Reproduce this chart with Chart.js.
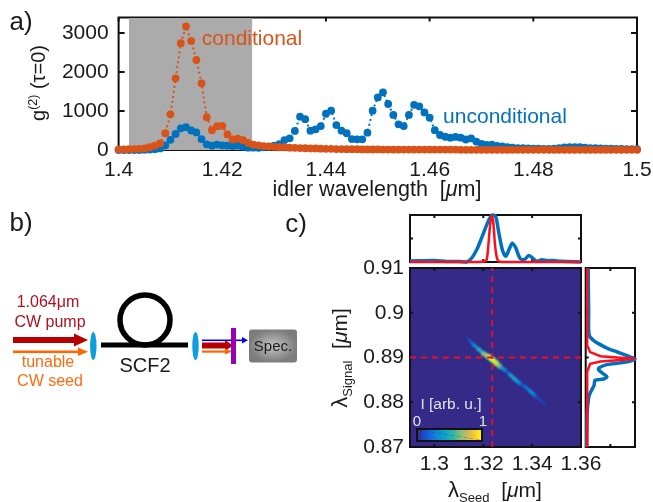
<!DOCTYPE html>
<html>
<head>
<meta charset="utf-8">
<title>g2 spectra</title>
<script src="https://cdn.jsdelivr.net/npm/chart.js@4"></script>
<style>
    html, body { margin: 0; padding: 0; background: #fff; overflow: hidden; }
    #page { position: relative; width: 653px; height: 502px; font-family: "Liberation Sans", Arial, sans-serif; color: #1a1a1a; }
    canvas { position: absolute; left: 0; top: 0; }
    svg { position: absolute; left: 0; top: 0; }
    .t { position: absolute; white-space: nowrap; line-height: 1; transform: translate(-50%, -50%); }
    .rot { transform: translate(-50%, -50%) rotate(-90deg); }
    sup, sub { font-size: 62%; line-height: 0; }
    #colorbar { position: absolute; left: 416px; top: 428px; width: 67px; height: 14px; box-sizing: border-box; border: 2px solid #111;
        background: linear-gradient(to top right, transparent 48%, rgba(40,60,110,.4) 50%, transparent 52%),
            linear-gradient(90deg, #352a87, #0f5cdd 14%, #1481d6 28%, #06a4ca 42%, #2eb7a4 56%, #87bf77 68%, #d1bb59 80%, #fec832 90%, #f9fb0e); }
</style>
</head>
<body>
<div id="page">
    <canvas id="spectrum" width="653" height="502"></canvas>
    <canvas id="topCut" width="653" height="502"></canvas>
    <canvas id="heat" width="653" height="502"></canvas>
    <canvas id="sideCut" width="653" height="502"></canvas>

    <svg width="653" height="502">
        <defs>
            <radialGradient id="specFill"><stop offset="0" stop-color="#c4c4c4"/><stop offset="1" stop-color="#7c7c7c"/></radialGradient>
        </defs>
        <rect x="13" y="337" width="62" height="6" fill="#b80000"/>
        <polygon points="74,333.5 88,340 74,346.5" fill="#b80000"/>
        <rect x="13" y="350.5" width="66" height="2.6" fill="#ff6600"/>
        <polygon points="78,347.5 88,351.8 78,356" fill="#ff6600"/>
        <ellipse cx="93.3" cy="346" rx="3.2" ry="14" fill="#0b9fdc"/>
        <circle cx="145" cy="320" r="25" fill="none" stroke="#000" stroke-width="5.5"/>
        <rect x="101" y="342.5" width="87" height="5" fill="#000"/>
        <ellipse cx="195.5" cy="346" rx="3.2" ry="14" fill="#0b9fdc"/>
        <rect x="202" y="339.5" width="40" height="1.6" fill="#0000ee"/>
        <polygon points="242,337 248,340.3 242,343.5" fill="#0000ee"/>
        <rect x="202" y="342.5" width="24" height="6" fill="#b80000"/>
        <polygon points="225,340 233,345.5 225,351" fill="#b80000"/>
        <rect x="202" y="350.5" width="24" height="2.2" fill="#ff6600"/>
        <polygon points="225,348.5 232,351.6 225,354.6" fill="#ff6600"/>
        <rect x="231" y="328" width="5" height="36" fill="#9a00b8"/>
        <rect x="249" y="329.5" width="48" height="33" rx="3" fill="url(#specFill)"/>
    </svg>

    <div class="t" style="left:21px;top:21px;font-size:26px">a)</div>
    <div class="t" style="left:21px;top:222px;font-size:26px">b)</div>
    <div class="t" style="left:296px;top:223px;font-size:26px">c)</div>

    <div class="t rot" style="left:38px;top:83px;font-size:20px">g<sup>(2)</sup> (τ=0)</div>
    <div class="t" style="left:377px;top:190px;font-size:21.5px">idler wavelength &nbsp;[<i>μ</i>m]</div>
    <div class="t" style="left:252px;top:37px;font-size:21px;color:#d95319">conditional</div>
    <div class="t" style="left:505px;top:115px;font-size:21px;color:#0072bd">unconditional</div>

    <div class="t" style="left:48px;top:302px;font-size:16px;color:#b01020">1.064μm</div>
    <div class="t" style="left:50px;top:322px;font-size:16px;color:#b01020">CW pump</div>
    <div class="t" style="left:48px;top:362px;font-size:16px;color:#ff6a10">tunable</div>
    <div class="t" style="left:50px;top:381px;font-size:16px;color:#ff6a10">CW seed</div>
    <div class="t" style="left:145px;top:365px;font-size:20px">SCF2</div>
    <div class="t" style="left:273px;top:345px;font-size:15px">Spec.</div>

    <div class="t" style="left:495px;top:490px;font-size:21px"><span style="font-size:22px">λ</span><sub>Seed</sub> &nbsp;[<i>μ</i>m]</div>
    <div class="t rot" style="left:340px;top:358px;font-size:21px"><span style="font-size:22px">λ</span><sub>Signal</sub> &nbsp;[<i>μ</i>m]</div>
    <div class="t" style="left:451px;top:404px;font-size:15.5px;color:#e4e4ee">I [arb. u.]</div>
    <div class="t" style="left:417px;top:420px;font-size:15px;color:#e4e4ee">0</div>
    <div class="t" style="left:483px;top:420px;font-size:15px;color:#e4e4ee">1</div>
    <div id="colorbar"></div>
</div>

<script>
const wavelength = [
    1.400, 1.401, 1.402, 1.403, 1.404, 1.405, 1.406, 1.407, 1.408, 1.409,
    1.410, 1.411, 1.412, 1.413, 1.414, 1.415, 1.416, 1.417, 1.418, 1.419,
    1.420, 1.421, 1.422, 1.423, 1.424, 1.425, 1.426, 1.427, 1.428, 1.429,
    1.430, 1.431, 1.432, 1.433, 1.434, 1.435, 1.436, 1.437, 1.438, 1.439,
    1.440, 1.441, 1.442, 1.443, 1.444, 1.445, 1.446, 1.447, 1.448, 1.449,
    1.450, 1.451, 1.452, 1.453, 1.454, 1.455, 1.456, 1.457, 1.458, 1.459,
    1.460, 1.461, 1.462, 1.463, 1.464, 1.465, 1.466, 1.467, 1.468, 1.469,
    1.470, 1.471, 1.472, 1.473, 1.474, 1.475, 1.476, 1.477, 1.478, 1.479,
    1.480, 1.481, 1.482, 1.483, 1.484, 1.485, 1.486, 1.487, 1.488, 1.489,
    1.490, 1.491, 1.492, 1.493, 1.494, 1.495, 1.496, 1.497, 1.498, 1.499,
    1.500
];
const unconditional = [
    0, 0, 0, 0, 0, 5, 10, 20, 40, 120,
    260, 410, 555, 585, 500, 450, 280, 145, 110, 140,
    120, 110, 100, 115, 85, 60, 60, 55, 70, 85,
    110, 150, 255, 300, 490, 855, 790, 495, 530, 615,
    930, 1010, 640, 495, 430, 280, 275, 275, 445, 1010,
    1350, 1480, 1180, 900, 660, 615, 900, 1160, 1120, 965,
    830, 510, 385, 340, 315, 335, 315, 270, 300, 215,
    155, 130, 135, 105, 90, 70, 60, 50, 45, 40,
    35, 35, 30, 30, 35, 50, 65, 70, 70, 70,
    60, 50, 45, 40, 35, 35, 30, 30, 25, 25,
    20
];
const conditional = [
    10, 15, 20, 25, 30, 40, 70, 110, 170, 430,
    915, 1840, 2740, 3170, 2800, 2310, 1710, 840, 510, 610,
    620, 400, 270, 290, 250, 180, 140, 120, 100, 90,
    80, 70, 70, 60, 55, 50, 45, 40, 40, 35,
    30, 30, 25, 25, 20, 20, 20, 15, 15, 15,
    15, 10, 10, 10, 10, 10, 10, 10, 10, 10,
    10, 10, 10, 10, 10, 10, 5, 5, 5, 5,
    5, 5, 5, 5, 5, 5, 5, 5, 5, 5,
    5, 5, 5, 5, 5, 5, 5, 5, 5, 5,
    5, 5, 5, 5, 5, 5, 5, 5, 5, 5,
    5
];
const bandWavelength = [1.402, 1.4258];
const bandLevel = [3385, 3385];
const spectrumXTicks = [1.4, 1.42, 1.44, 1.46, 1.48, 1.5];
const spectrumYTicks = [0, 1000, 2000, 3000];

const seedTicks = [1.3, 1.32, 1.34, 1.36];
const signalTicks = [0.87, 0.88, 0.89, 0.9, 0.91];

const topSeed = [1.29, 1.30, 1.305, 1.31, 1.3132, 1.3152, 1.3173, 1.3193, 1.3214, 1.3227, 1.3238, 1.3251, 1.3264, 1.3278, 1.3292, 1.3305, 1.3319, 1.3333, 1.335, 1.3368, 1.3387, 1.3405, 1.3419, 1.344, 1.346, 1.3486, 1.352, 1.36];
const topBlue = [0.02, 0.03, 0.01, 0.01, 0.0, 0.08, 0.26, 0.51, 0.79, 0.94, 1.0, 0.96, 0.61, 0.26, 0.12, 0.26, 0.40, 0.30, 0.08, 0.05, 0.14, 0.07, 0.015, 0.05, 0.03, 0.03, 0.015, 0.0];
const topRedSeed = [1.29, 1.318, 1.3205, 1.3214, 1.3221, 1.3228, 1.3235, 1.3242, 1.3248, 1.3258, 1.3275, 1.36];
const topRed = [0, 0, 0.01, 0.05, 0.37, 0.79, 1.0, 0.79, 0.37, 0.05, 0, 0];

const sideSignal = [0.9099, 0.9002, 0.895, 0.8938, 0.8931, 0.8921, 0.8914, 0.8907, 0.8901, 0.8897, 0.8892, 0.8888, 0.8884, 0.8878, 0.8873, 0.8866, 0.8857, 0.8852, 0.8849, 0.8838, 0.8827, 0.8815, 0.8801, 0.8778, 0.87];
const sideBlue = [0.05, 0.06, 0.07, 0.16, 0.26, 0.43, 0.60, 0.77, 0.91, 1.0, 0.91, 0.70, 0.43, 0.29, 0.26, 0.33, 0.43, 0.36, 0.19, 0.17, 0.12, 0.07, 0.05, 0.03, 0.02];
const sideRedSignal = [0.91, 0.8927, 0.8912, 0.8903, 0.89, 0.8897, 0.8894, 0.8891, 0.8886, 0.8868, 0.87];
const sideRed = [0.03, 0.03, 0.09, 0.3, 0.64, 1.0, 0.64, 0.3, 0.09, 0.03, 0.03];

const ridgeSeed = [1.3132, 1.3143, 1.3159, 1.318, 1.32, 1.3221, 1.3234, 1.3252, 1.3268, 1.3289, 1.3309, 1.333, 1.335, 1.3371, 1.3391, 1.3412, 1.3432, 1.3453];
const ridgeSignal = [0.8944, 0.8939, 0.8929, 0.8919, 0.8909, 0.8902, 0.8897, 0.8888, 0.888, 0.8872, 0.8862, 0.8851, 0.8842, 0.8835, 0.8825, 0.8815, 0.8805, 0.8795];
const ridgeLevel = [0.06, 0.18, 0.36, 0.52, 0.78, 0.96, 1.0, 0.84, 0.42, 0.22, 0.46, 0.42, 0.18, 0.28, 0.36, 0.12, 0.08, 0.04];
const crossSeed = 1.3237;
const crossSignal = 0.89;

const parulaStops = [[53, 42, 135], [15, 92, 221], [20, 129, 214], [6, 164, 202], [46, 183, 164], [135, 191, 119], [209, 187, 89], [254, 200, 50], [249, 251, 14]];

const BLUE = '#0072bd';
const ORANGE = '#d95319';
const RED = '#ff0d1e';

function parula(v, alpha) {
    const pos = Math.min(v, 1) * (parulaStops.length - 1);
    const i = Math.min(Math.floor(pos), parulaStops.length - 2);
    const f = pos - i;
    const c = parulaStops[i].map((s, k) => Math.round(s + (parulaStops[i + 1][k] - s) * f));
    return `rgba(${c[0]},${c[1]},${c[2]},${alpha === undefined ? 1 : alpha})`;
}

function pairs(xs, ys) {
    return xs.map((x, i) => ({ x: x, y: ys[i] }));
}

// frame, background and inward ticks on all four sides
const framePlugin = {
    id: 'frame',
    beforeDatasetsDraw(chart, args, opts) {
        const { ctx, chartArea: a, scales } = chart;
        ctx.save();
        if (opts.fill) {
            ctx.fillStyle = opts.fill;
            ctx.fillRect(a.left, a.top, a.right - a.left, a.bottom - a.top);
        }
        ctx.strokeStyle = '#111';
        ctx.lineWidth = 2;
        ctx.strokeRect(a.left, a.top, a.right - a.left, a.bottom - a.top);
        ctx.beginPath();
        scales.x.ticks.forEach(t => {
            const px = scales.x.getPixelForValue(t.value);
            ctx.moveTo(px, a.top); ctx.lineTo(px, a.top + opts.xLen);
            ctx.moveTo(px, a.bottom); ctx.lineTo(px, a.bottom - opts.xLen);
        });
        scales.y.ticks.forEach(t => {
            const py = scales.y.getPixelForValue(t.value);
            ctx.moveTo(a.left, py); ctx.lineTo(a.left + opts.yLen, py);
            ctx.moveTo(a.right, py); ctx.lineTo(a.right - opts.yLen, py);
        });
        ctx.stroke();
        ctx.restore();
    }
};

const blurPlugin = {
    id: 'ridgeBlur',
    beforeDatasetDraw(chart, args) {
        if (chart.data.datasets[args.index].blur) {
            chart.ctx.save();
            chart.ctx.filter = 'blur(' + chart.data.datasets[args.index].blur + 'px)';
        }
    },
    afterDatasetDraw(chart, args) {
        if (chart.data.datasets[args.index].blur) chart.ctx.restore();
    }
};

Chart.register(framePlugin, blurPlugin);
Chart.defaults.font.family = '"Liberation Sans", Arial, sans-serif';
Chart.defaults.color = '#1a1a1a';

function axis(min, max, tickValues, showLabels, padding) {
    return {
        type: 'linear',
        min: min,
        max: max,
        border: { display: false },
        grid: { display: false, drawTicks: false },
        afterBuildTicks: scale => { scale.ticks = tickValues.map(v => ({ value: v })); },
        ticks: {
            display: showLabels,
            autoSkip: false,
            maxRotation: 0,
            padding: padding,
            font: { size: 21 },
            callback: v => String(v)
        }
    };
}

function fixedSize(scale, w, h) {
    if (scale.isHorizontal()) scale.height = h; else scale.width = w;
    scale.paddingLeft = scale.paddingRight = scale.paddingTop = scale.paddingBottom = 0;
}

// every chart shares the page-sized canvas, the plot box comes from the padding
function makeChart(id, box, datasets, xAxis, yAxis, frame) {
    xAxis.afterFit = scale => fixedSize(scale, box.left, 502 - box.bottom);
    yAxis.afterFit = scale => fixedSize(scale, box.left, 502 - box.bottom);
    return new Chart(document.getElementById(id), {
        type: 'line',
        data: { datasets: datasets },
        options: {
            responsive: false,
            animation: false,
            events: [],
            layout: {
                autoPadding: false,
                padding: { left: 0, top: box.top, right: 653 - box.right, bottom: 0 }
            },
            scales: { x: xAxis, y: yAxis },
            plugins: { legend: { display: false }, tooltip: { enabled: false }, frame: frame }
        }
    });
}

makeChart('spectrum', { left: 118.6, top: 17.5, right: 637, bottom: 150 }, [
    {
        data: pairs(wavelength, conditional), order: 1, clip: false,
        borderColor: ORANGE, borderWidth: 2, borderDash: [2, 3],
        pointRadius: 3.9, pointBackgroundColor: ORANGE, pointBorderWidth: 0, tension: 0
    },
    {
        data: pairs(wavelength, unconditional), order: 2, clip: false,
        borderColor: BLUE, borderWidth: 2, borderDash: [2, 3],
        pointRadius: 3.9, pointBackgroundColor: BLUE, pointBorderWidth: 0, tension: 0
    },
    {
        data: pairs(bandWavelength, bandLevel), order: 3,
        borderWidth: 0, pointRadius: 0, fill: 'origin', backgroundColor: '#ababab'
    }
], axis(1.4, 1.5, spectrumXTicks, true, 8), axis(0, 3400, spectrumYTicks, true, 10), { xLen: 4, yLen: 6 });

makeChart('topCut', { left: 410, top: 215, right: 581, bottom: 262 }, [
    { data: pairs(topRedSeed, topRed), order: 1, clip: false, borderColor: RED, borderWidth: 2.5, pointRadius: 0, tension: 0.3 },
    { data: pairs(topSeed, topBlue), order: 2, clip: false, borderColor: BLUE, borderWidth: 3.5, pointRadius: 0, tension: 0.3 }
], axis(1.29, 1.36, seedTicks, false, 0), axis(0, 1, [0.5], false, 0), { xLen: 3, yLen: 3 });

makeChart('heat', { left: 410, top: 268, right: 581, bottom: 447 }, [
    { data: pairs([crossSeed, crossSeed], [0.87, 0.91]), order: 1, borderColor: '#e8102a', borderWidth: 1.8, borderDash: [6, 5], pointRadius: 0 },
    { data: pairs([1.29, 1.36], [crossSignal, crossSignal]), order: 1, borderColor: '#e8102a', borderWidth: 1.8, borderDash: [6, 5], pointRadius: 0 },
    {
        data: pairs(ridgeSeed, ridgeSignal), order: 2, blur: 0.8, pointRadius: 0, tension: 0,
        borderCapStyle: 'round', borderColor: parula(0.5),
        segment: {
            borderColor: c => parula(ridgeLevel[c.p0DataIndex]),
            borderWidth: c => 1 + 2.6 * ridgeLevel[c.p0DataIndex]
        }
    },
    {
        data: pairs(ridgeSeed, ridgeSignal), order: 3, blur: 1.3, pointRadius: 0, tension: 0,
        borderCapStyle: 'round', borderColor: parula(0.2),
        segment: {
            borderColor: c => parula(ridgeLevel[c.p0DataIndex] * 0.45),
            borderWidth: c => 1.5 + 4 * ridgeLevel[c.p0DataIndex]
        }
    }
], axis(1.29, 1.36, seedTicks, true, 5), axis(0.87, 0.91, signalTicks, true, 6), { xLen: 3, yLen: 3, fill: parula(0) });

makeChart('sideCut', { left: 585.7, top: 268, right: 635, bottom: 447 }, [
    { data: pairs(sideRed, sideRedSignal), order: 1, clip: false, borderColor: RED, borderWidth: 2.5, pointRadius: 0, tension: 0 },
    { data: pairs(sideBlue, sideSignal), order: 2, clip: false, borderColor: BLUE, borderWidth: 3.5, pointRadius: 0, tension: 0.3 }
], axis(0, 1, [0.5], false, 0), axis(0.87, 0.91, [0.88, 0.89, 0.9], false, 0), { xLen: 3, yLen: 3 });
</script>
</body>
</html>
